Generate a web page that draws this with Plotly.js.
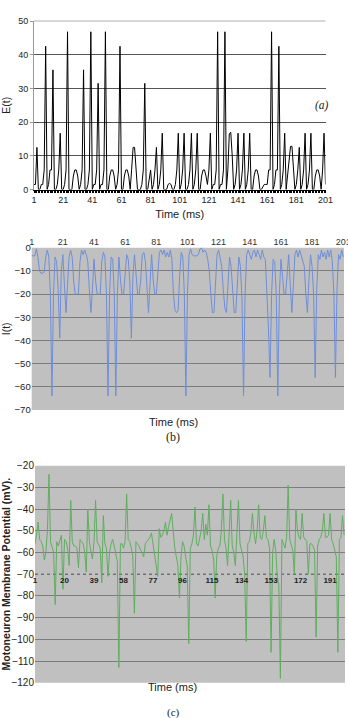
<!DOCTYPE html>
<html>
<head>
<meta charset="utf-8">
<script src="https://cdn.plot.ly/plotly-3.0.1.min.js"></script>
<style>html,body{margin:0;padding:0;background:#fff;}#chart{width:348px;height:718px;}</style>
</head>
<body>
<div id="chart"></div>
<script>
// ---------- data ----------
const timeA = Array.from({length: 201}, (_, i) => i + 1);   // ms, panel (a)
const timeB = Array.from({length: 201}, (_, i) => i + 1);   // ms, panel (b)
const timeC = Array.from({length: 200}, (_, i) => i + 1);   // ms, panel (c)

const excitation = [
  1.5,1.5,12.5,0,0,1.5,1.5,5.8,42.5,0,
  1.5,5.8,5.8,35.5,0,0,1.5,5.8,16.7,0,
  0,1.5,5.8,46.8,0,0,0,4,5.8,5.8,
  4,0,1.5,5.8,35.5,0,0,1.5,5.8,46.8,
  0,1.5,1.5,5.8,31.5,0,1.5,1.5,5.8,46.8,
  0,0,4,5.8,5.8,4,0,1.5,5.8,42.5,
  0,0,4,5.8,5.8,4,0,6,12.5,12.5,
  6,0,0,0,1.5,5.8,31.5,0,0,3,
  5.8,0,1.5,5.8,12.5,0,1.5,5.8,16.7,0,
  0,0,1.5,1.8,1.5,0,0,1.5,5.8,16.7,
  0,1.5,5.8,16.7,0,0,1.5,5.8,16.7,0,
  1.5,5.8,16.7,0,0,4,5.8,5.8,4,1.5,
  5.8,16.7,0,1.5,1.5,5.8,46.8,0,1.5,1.5,
  5.8,46.8,0,5.8,16.5,17,10,0,1.5,5.8,
  16.7,0,1.5,5.8,16.7,0,1.5,5.8,16.7,0,
  0,4,5.8,5.8,4,0,0,0.8,1.5,1.5,
  1.5,5.8,5.8,46.8,0,1.5,5.8,5.8,42.5,0,
  1.5,5.8,16.7,0,4,10,12.8,12.8,6,0,
  1.5,5.8,12.5,0,1.5,5.8,16.7,0,1.5,5.8,
  16.7,0,0,4,5.8,5.8,4,0,5.8,16.7,
  1.5
];

const inhibition = [
  -3.5,-3.5,-3.5,-0.5,-4,-10,-11,-11,-10.5,-4,
  -1,-4,-20,-64,-20,-4,-6,-18,-39,-10,
  -3,-16,-28,-16,-4,-1,-4,-15,-20,-20,
  -20,-6,-1,-3,-1,-3,-6,-18,-28,-18,
  -5,-14,-20,-20,-20,-6,-2,-4,-20,-64,
  -20,-4,-5,-20,-64,-20,-4,-14,-20,-20,
  -12,-3,-5,-15,-39,-12,-3,-10,-20,-20,
  -14,-3,-2,-6,-18,-28,-15,-3,-14,-20,
  -20,-10,-2,-1,-3,-1,-4,-2,-4,-1,
  -5,-20,-27,-28,-27,-12,-2,-4,-20,-64,
  -20,-3,-0.5,-3,-3.5,-3.5,-3.5,-3,-0.5,0,
  -2,-1,-2,-5,-10,-20,-28,-28,-15,-3,
  -1,-4,-8,-18,-26,-28,-15,-4,-8,-20,
  -28,-28,-14,-4,-8,-22,-64,-20,-3,-1,
  -3,-5,-2,-1,-4,-1,-3,-5,-1,-4,
  -5,-18,-35,-56,-20,-5,-6,-20,-64,-20,
  -5,-12,-20,-20,-10,-3,-16,-28,-16,-3,
  -1,-4,-1,-3,-5,-8,-20,-28,-14,-3,
  -8,-20,-56,-18,-3,-5,-1,-4,-2,-5,
  -1,-4,-1,-6,-20,-56,-18,-3,-5,-1,
  -4
];

const potential = [
  -56,-52,-46,-54,-55,-57,-63.5,-60,-50,-24,
  -55,-58,-60,-84,-55,-57,-54,-52,-77,-54,
  -55,-58,-66,-36,-55,-57,-57,-58,-67,-54,
  -55,-56,-60,-69,-40,-55,-60,-63,-55,-36,
  -55,-57,-58,-74,-43,-56,-58,-71,-60,-56,
  -54,-57,-60,-64,-113,-56,-56,-58,-55,-33,
  -54,-55,-58,-62,-88,-55,-56,-57,-59,-60,
  -62,-56,-55,-54,-53,-51,-56,-60,-66,-71,
  -49,-53,-52,-50,-46,-52,-48,-45,-42,-50,
  -58,-62,-66,-81,-62,-55,-57,-62,-66,-102,
  -58,-56,-52,-39,-56,-57,-54,-50,-42,-54,
  -47,-52,-38,-57,-59,-63,-81,-62,-58,-57,
  -50,-33,-54,-58,-66,-50,-36,-57,-60,-66,
  -50,-36,-56,-59,-62,-70,-101,-56,-55,-51,
  -42,-51,-56,-50,-38,-53,-54,-50,-43,-53,
  -54,-58,-106,-60,-54,-59,-71,-75,-118,-54,
  -56,-58,-53,-29,-54,-57,-59,-70,-40,-50,
  -53,-54,-42,-53,-54,-55,-70,-56,-56,-57,
  -59,-99,-57,-54,-53,-50,-42,-53,-53,-52,
  -42,-54,-56,-59,-62,-106,-54,-53,-43,-52
];

const ticksAB = [1, 21, 41, 61, 81, 101, 121, 141, 161, 181, 201];
const ticksC = [1, 20, 39, 58, 77, 96, 115, 134, 153, 172, 191];
const yTicksA = [0, 10, 20, 30, 40, 50];
const yGridA = [10, 20, 30, 40];
const yTicksB = [0, -10, -20, -30, -40, -50, -60, -70];
const yTicksC = [-20, -30, -40, -50, -60, -70, -80, -90, -100, -110, -120];
const yGridC = [-30, -40, -50, -60, -80, -90, -100, -110];
const restLevel = -70;   // level where panel (c) time axis crosses

// ---------- layout ----------
const W = 348, H = 718;
const px = v => v / W;
const py = v => 1 - v / H;
const SANS = 'Liberation Sans, Arial, sans-serif';
const SERIF = 'Liberation Serif, Times New Roman, serif';

const domYC = [py(682.7), py(465.7)];
const rangeYC = [-120, -20];
const crossPos = domYC[0] + (restLevel - rangeYC[0]) / (rangeYC[1] - rangeYC[0]) * (domYC[1] - domYC[0]);

const traces = [
  {x: timeA, y: excitation, xaxis: 'x', yaxis: 'y', type: 'scatter', mode: 'lines',
   line: {color: '#000000', width: 1}, hoverinfo: 'skip'},
  {x: timeB, y: inhibition, xaxis: 'x2', yaxis: 'y2', type: 'scatter', mode: 'lines',
   line: {color: '#6f8ed8', width: 1}, hoverinfo: 'skip'},
  {x: timeC, y: potential, xaxis: 'x3', yaxis: 'y3', type: 'scatter', mode: 'lines',
   line: {color: '#5fae5f', width: 1}, hoverinfo: 'skip'}
];

const layout = {
  width: W, height: H, autosize: false,
  margin: {l: 0, r: 0, t: 0, b: 0},
  paper_bgcolor: '#ffffff', plot_bgcolor: 'rgba(0,0,0,0)',
  showlegend: false,
  font: {family: SANS, color: '#222'},
  xaxis: {
    domain: [px(34), px(325.5)], range: [1, 201], anchor: 'y',
    tickmode: 'array', tickvals: ticksAB, ticktext: ticksAB.map(String),
    ticks: 'outside', ticklen: 2, tickcolor: '#000',
    minor: {tickmode: 'linear', tick0: 1, dtick: 1, ticks: 'outside', ticklen: 2, tickcolor: '#000'},
    showline: true, linecolor: '#000', linewidth: 1,
    showgrid: false, zeroline: false,
    tickfont: {size: 9, color: '#222'},
    title: {text: 'Time (ms)', font: {size: 11, color: '#222'}, standoff: 6}
  },
  yaxis: {
    domain: [py(189.5), py(21)], range: [0, 50], anchor: 'x',
    tickmode: 'array', tickvals: yTicksA,
    ticks: 'outside', ticklen: 3, tickcolor: '#999',
    showline: true, linecolor: '#999', linewidth: 1,
    showgrid: false, zeroline: false,
    minor: {tickmode: 'array', tickvals: yGridA, showgrid: true, gridcolor: '#555', gridwidth: 1, ticks: ''},
    tickfont: {size: 9, color: '#222'},
    title: {text: 'E(t)', font: {size: 10.5, color: '#222'}, standoff: 6}
  },
  xaxis2: {
    domain: [px(31.7), px(344)], range: [1, 201.5], anchor: 'y2', side: 'top',
    tickmode: 'array', tickvals: ticksAB, ticktext: ticksAB.map(String),
    ticklabeloverflow: 'allow',
    ticks: '', showline: false, showgrid: false, zeroline: false,
    tickfont: {size: 9, color: '#333'}
  },
  yaxis2: {
    domain: [py(410), py(247.7)], range: [-70, 0], anchor: 'x2',
    tickmode: 'array', tickvals: yTicksB,
    ticks: '', showline: false, zeroline: false,
    showgrid: true, gridcolor: '#7d7d7d', gridwidth: 1,
    tickfont: {size: 9.5, color: '#222'},
    title: {text: 'I(t)', font: {size: 10.5, color: '#222'}, standoff: 6}
  },
  xaxis3: {
    domain: [px(35), px(345)], range: [1, 200.6], anchor: 'free', position: crossPos,
    tickmode: 'array', tickvals: ticksC, ticktext: ticksC.map(String),
    ticks: '', showline: false, showgrid: false, zeroline: false,
    tickfont: {size: 8, color: '#222', weight: 'bold'}
  },
  yaxis3: {
    domain: domYC, range: rangeYC, anchor: 'x3',
    tickmode: 'array', tickvals: yTicksC,
    ticks: '', showline: false, zeroline: false, showgrid: false,
    minor: {tickmode: 'array', tickvals: yGridC, showgrid: true, gridcolor: '#7d7d7d', gridwidth: 1, ticks: ''},
    tickfont: {size: 10, color: '#222'},
    title: {text: 'Motoneuron Membrane Potential (mV).', font: {size: 10.5, color: '#222', weight: 'bold'}, standoff: 2}
  },
  shapes: [
    {type: 'line', xref: 'x domain', yref: 'y domain', x0: 0, x1: 1, y0: 1, y1: 1,
     line: {color: '#c8c8c8', width: 1.5}, layer: 'below'},
    {type: 'rect', xref: 'x2 domain', yref: 'y2 domain', x0: 0, x1: 1, y0: 0, y1: 1,
     fillcolor: '#c0c0c0', line: {width: 0}, layer: 'below'},
    {type: 'rect', xref: 'x3 domain', yref: 'y3 domain', x0: 0, x1: 1, y0: 0, y1: 1,
     fillcolor: '#c0c0c0', line: {width: 0}, layer: 'below'},
    {type: 'line', xref: 'x3 domain', yref: 'y3', x0: 0, x1: 1, y0: restLevel, y1: restLevel,
     line: {color: '#4a4a4a', width: 1, dash: 'dot'}, layer: 'below'}
  ],
  annotations: [
    {text: '<i>(a)</i>', xref: 'paper', yref: 'paper', x: px(331), y: py(97),
     showarrow: false, font: {family: SERIF, size: 11.5, color: '#222'}},
    {text: 'Time (ms)', xref: 'paper', yref: 'paper', x: px(173), y: py(422),
     showarrow: false, font: {family: SANS, size: 11, color: '#222'}},
    {text: '(b)', xref: 'paper', yref: 'paper', x: px(173), y: py(437),
     showarrow: false, font: {family: SERIF, size: 12, color: '#222'}},
    {text: 'Time (ms)', xref: 'paper', yref: 'paper', x: px(172), y: py(695),
     showarrow: false, font: {family: SANS, size: 11, color: '#222'}},
    {text: '(c)', xref: 'paper', yref: 'paper', x: px(173), y: py(704), yanchor: 'top',
     showarrow: false, font: {family: SERIF, size: 11, color: '#222'}}
  ]
};

Plotly.newPlot('chart', traces, layout, {staticPlot: true, displayModeBar: false});
</script>
</body>
</html>
